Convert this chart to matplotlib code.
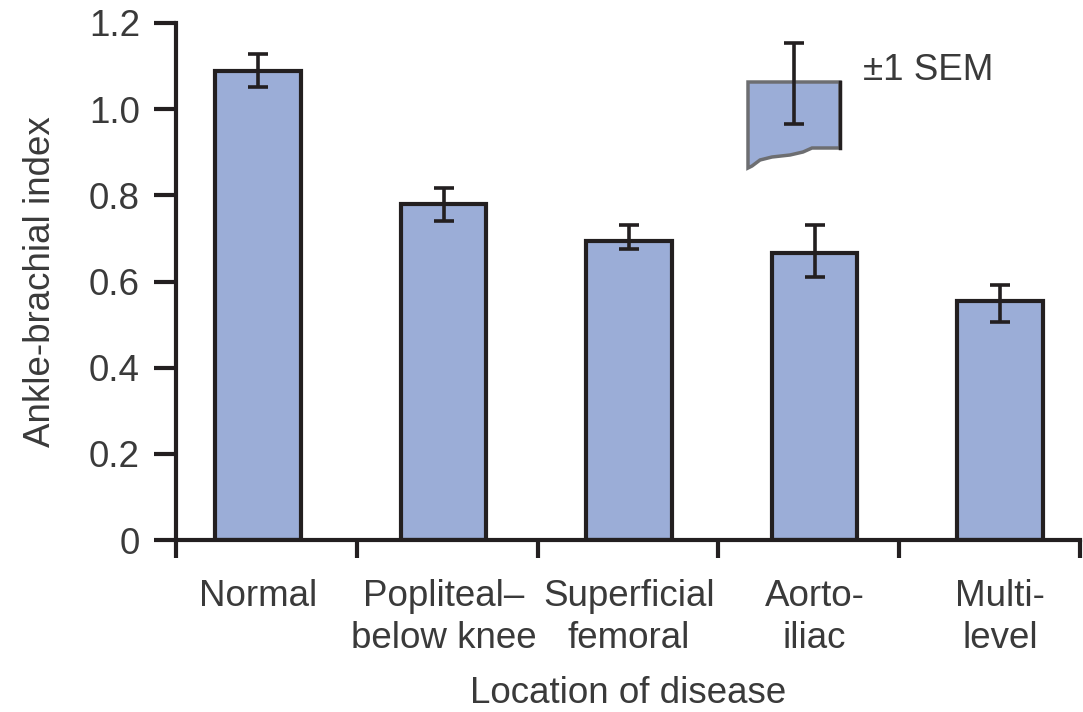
import matplotlib.pyplot as plt
import numpy as np
from matplotlib.patches import Polygon

# values
categories = ['Normal', 'Popliteal–\nbelow knee', 'Superficial\nfemoral', 'Aorto-\niliac', 'Multi-\nlevel']
abi_mean = [1.089, 0.779, 0.694, 0.667, 0.555]
sem_upper = [0.038, 0.039, 0.037, 0.064, 0.038]
sem_lower = [0.037, 0.039, 0.019, 0.056, 0.048]
y_ticks = [0, 0.2, 0.4, 0.6, 0.8, 1.0, 1.2]
y_tick_labels = ['0', '0.2', '0.4', '0.6', '0.8', '1.0', '1.2']

bar_color = '#9badd7'
ink = '#231f20'
text_color = '#3a3a3a'

plt.rcParams['font.family'] = ['Liberation Sans', 'DejaVu Sans']

fig = plt.figure(figsize=(10.83, 7.12), dpi=100)
ax = fig.add_axes([176/1083, 1-540/712, 904/1083, 517/712])

x = np.arange(len(categories))
ax.bar(x, abi_mean, width=0.46, color=bar_color, edgecolor=ink, linewidth=3, zorder=2)
ax.errorbar(x, abi_mean, yerr=[sem_lower, sem_upper], fmt='none', ecolor=ink,
            elinewidth=2.6, capsize=7.2, capthick=2.6, zorder=3)

ax.set_xlim(-0.442, 4.431)
ax.set_ylim(0, 1.2)

for s in ['top', 'right']:
    ax.spines[s].set_visible(False)
for s in ['left', 'bottom']:
    ax.spines[s].set_linewidth(3)
    ax.spines[s].set_color(ink)

ax.set_yticks(y_ticks)
ax.set_yticklabels(y_tick_labels)
ax.tick_params(axis='y', length=16, width=3, color=ink, pad=10,
               labelsize=26.5, labelcolor=text_color)

ax.set_xticks(x)
ax.set_xticklabels(categories, linespacing=1.25)
ax.set_xticks(np.linspace(-0.442, 4.431, 6), minor=True)
ax.tick_params(axis='x', which='major', length=0, pad=28,
               labelsize=26.5, labelcolor=text_color)
ax.tick_params(axis='x', which='minor', length=13, width=3, color=ink)

ax.set_ylabel('Ankle-brachial index', fontsize=26.5, color=text_color, labelpad=22)
ax.set_xlabel('Location of disease', fontsize=26.5, color=text_color, labelpad=15)

# "±1 SEM" key drawn as a torn bar fragment
def af(px, py):
    return ((px - 176) / 904, (540 - py) / 517)

key_pts = [af(748, 82), af(840, 82), af(840, 148), af(812, 148), af(803, 152),
           af(790, 155), af(772, 157), af(760, 160), af(752, 166), af(748, 168)]
ax.add_patch(Polygon(key_pts, closed=True, transform=ax.transAxes, facecolor=bar_color,
                     edgecolor='#6d6e71', linewidth=2.5, clip_on=False, zorder=4))
ax.plot([af(840, 82)[0], af(840, 148)[0]], [af(840, 82)[1], af(840, 148)[1]],
        color=ink, lw=2.5, transform=ax.transAxes, clip_on=False, zorder=5)
ax.errorbar([af(794, 0)[0]], [(af(0, 43)[1] + af(0, 124)[1]) / 2],
            yerr=[(af(0, 43)[1] - af(0, 124)[1]) / 2], fmt='none', ecolor=ink,
            elinewidth=2.6, capsize=7.2, capthick=2.6, transform=ax.transAxes,
            clip_on=False, zorder=6)
ax.text(*af(863, 71), '±1 SEM', transform=ax.transAxes, fontsize=26.5,
        color=text_color, ha='left', va='center')

fig.savefig('out.png', dpi=100)
